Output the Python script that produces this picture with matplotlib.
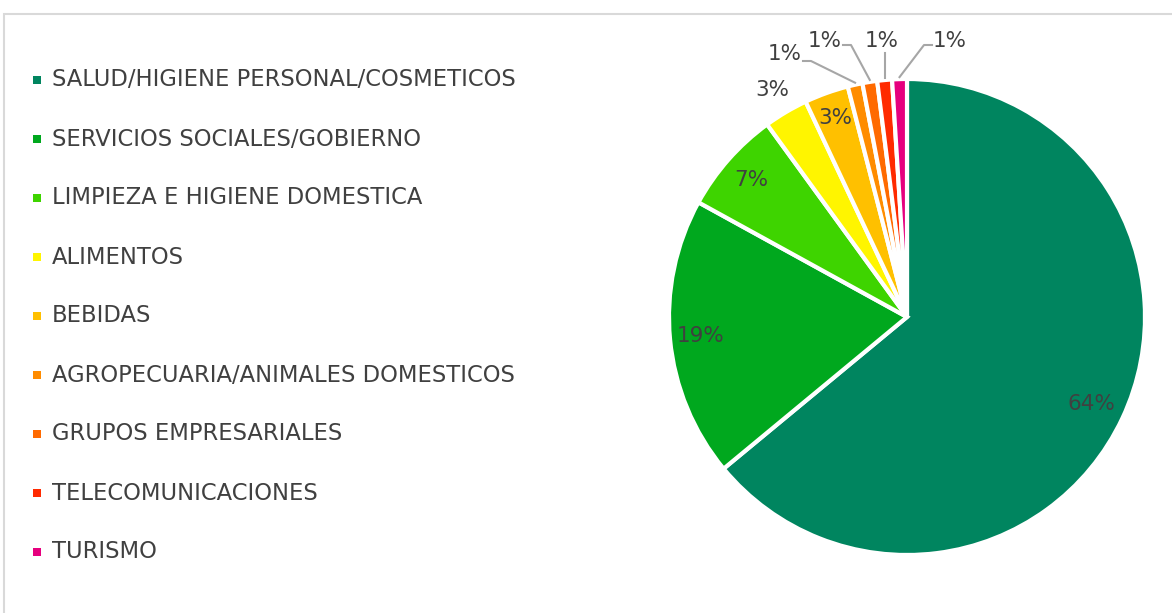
import numpy as np
import matplotlib
matplotlib.use("Agg")
import matplotlib.pyplot as plt
from matplotlib.patches import Rectangle

categories = [
    "SALUD/HIGIENE PERSONAL/COSMETICOS",
    "SERVICIOS SOCIALES/GOBIERNO",
    "LIMPIEZA E HIGIENE DOMESTICA",
    "ALIMENTOS",
    "BEBIDAS",
    "AGROPECUARIA/ANIMALES DOMESTICOS",
    "GRUPOS EMPRESARIALES",
    "TELECOMUNICACIONES",
    "TURISMO",
]
values = [64, 19, 7, 3, 3, 1, 1, 1, 1]
colors = ["#00855F", "#00A81E", "#3ED400", "#FFF500", "#FFC000",
          "#FF8C00", "#FF6A00", "#FF2A00", "#E6007E"]
# label placement: 'in' (inside), 'out' (outside) or 'lead' (leader line)
label_mode = ["in", "in", "in", "out", "in", "lead", "lead", "lead", "lead"]
label_frac = [0.855, 0.87, 0.87, 1.11, 0.89, None, None, None, None]
lead_text_xy = [None, None, None, None, None, (785, 54), (825, 41), (882, 41), (950, 41)]

W, H = 1172, 613
fig = plt.figure(figsize=(W / 100, H / 100), dpi=100)
ax = fig.add_axes([0, 0, 1, 1])

font = "DejaVu Sans"
tcol = "#404040"

cx, cy, r = 907, H - 317, 238
wedges, _ = ax.pie(values, colors=colors, startangle=90, counterclock=False,
                   center=(cx, cy), radius=r, frame=True,
                   wedgeprops=dict(edgecolor="white", linewidth=3))
ax.set_xlim(0, W)
ax.set_ylim(0, H)
ax.set_aspect("equal")
ax.axis("off")

# border
ax.add_patch(Rectangle((3.5, -5), W + 10, H - 13.5 + 5, fill=False,
                       edgecolor="#D9D9D9", linewidth=1.5))

for i, (w, v) in enumerate(zip(wedges, values)):
    ang = np.deg2rad((w.theta1 + w.theta2) / 2)
    lab = f"{v}%"
    if label_mode[i] in ("in", "out"):
        f = label_frac[i]
        ax.text(cx + f * r * np.cos(ang), cy + f * r * np.sin(ang), lab,
                ha="center", va="center", fontsize=15.5, color=tcol, family=font)
    else:
        tx, ty = lead_text_xy[i]
        ty = H - ty
        ex, ey = cx + r * np.cos(ang), cy + r * np.sin(ang)
        ax.text(tx, ty, lab, ha="center", va="center", fontsize=15.5,
                color=tcol, family=font)
        ly = ty - 7 if i == 5 else ty - 4
        hx = tx - 18 if ex < tx else tx + 18
        if i == 7:
            ax.plot([ex, ex], [ey + 2, ty - 12], color="#A6A6A6", lw=1.5)
        else:
            mx = hx + (8 if ex > tx else -8)
            ax.plot([ex, mx, hx], [ey + 2, ly, ly], color="#A6A6A6", lw=1.5)

# legend
ly0, dy = H - 80, 59
for i, (name, c) in enumerate(zip(categories, colors)):
    y = ly0 - i * dy
    ax.add_patch(Rectangle((33, y - 4), 8, 8, facecolor=c, edgecolor="none"))
    ax.text(52, y, name, ha="left", va="center", fontsize=16.3,
            color=tcol, family=font)

fig.savefig("out.png", dpi=100, facecolor="white")
